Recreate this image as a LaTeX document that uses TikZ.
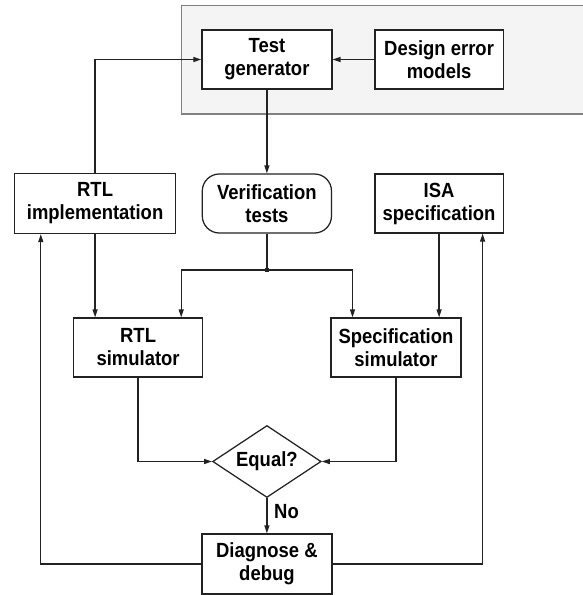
\documentclass[tikz,border=0pt]{standalone}
\usepackage{fontspec}
\setmainfont{Liberation Sans}[FakeStretch=0.9]
\usetikzlibrary{arrows.meta,shapes.geometric}
\definecolor{panelfill}{HTML}{F4F4F4}
\definecolor{paneldraw}{HTML}{808080}
\definecolor{ink}{HTML}{222222}
\tikzset{
  box/.style={draw=ink, line width=1.25pt, fill=white, minimum width=130pt, minimum height=59pt,
    inner sep=0pt, align=center, font=\fontsize{20.5}{23}\selectfont\bfseries},
  pill/.style={box, rounded corners=17pt},
  dec/.style={draw=ink, line width=1.25pt, fill=white, diamond, aspect=1.5, inner sep=0pt,
    minimum width=108.5pt, minimum height=72pt, font=\fontsize{20.5}{23}\selectfont\bfseries},
  conn/.style={draw=ink, line width=1.25pt},
  arr/.style={conn, -{Triangle[length=8pt,width=5pt]}},
  lbl/.style={font=\fontsize{20.5}{23}\selectfont\bfseries, inner sep=0pt}
}
\begin{document}
\begin{tikzpicture}[x=1pt,y=-1pt]
\useasboundingbox (0,0) rectangle (583,595);
\draw[fill=panelfill, draw=paneldraw, line width=1.25pt] (181.2,5.5) rectangle (590,114);
\node[box] (tg) at (266.9,59.5) {Test\\generator};
\node[box, minimum width=128.3pt] (dem) at (439.1,59.5) {Design error\\models};
\node[box, minimum width=161.5pt, minimum height=60pt] (rtl) at (95.1,203.5) {RTL\\implementation};
\node[pill, minimum width=129.2pt] (vt) at (266.9,203.5) {Verification\\tests};
\node[box, minimum width=128.3pt] (isa) at (439.1,203.5) {ISA\\specification};
\node[box, minimum width=129.2pt] (rtlsim) at (138.1,347.5) {RTL\\simulator};
\node[box] (specsim) at (396,347.5) {Specification\\simulator};
\node[dec] (eq) at (266.9,461.5) {Equal?};
\node[box, minimum height=60pt] (diag) at (266.9,564) {Diagnose \&\\debug};
\node[lbl] (no) at (286.5,512) {No};
\node[fill=ink, minimum size=4pt, inner sep=0pt] (j) at (266.9,270) {};
\coordinate (jl) at (181.2,270);
\coordinate (jr) at (352.5,270);
\coordinate (fl) at (40.8,564);
\coordinate (fr) at (482.6,564);
% connectors
\draw[arr] (dem.west) -- (tg.west -| tg.east);
\draw[arr] (rtl.north) |- (tg.west);
\draw[arr] (tg.south) -- (vt.north);
\draw[conn] (vt.south) -- (j.center);
\draw[arr] (j.center) -- (jl) -- (jl |- rtlsim.north);
\draw[arr] (j.center) -- (jr) -- (jr |- specsim.north);
\draw[arr] (rtl.south) -- (rtl.south |- rtlsim.north);
\draw[arr] (isa.south) -- (isa.south |- specsim.north);
\draw[arr] (rtlsim.south) |- (eq.west);
\draw[arr] (specsim.south) |- (eq.east);
\draw[arr] (eq.south) -- (diag.north);
\draw[arr] (diag.west) -- (fl) -- (fl |- rtl.south);
\draw[arr] (diag.east) -- (fr) -- (fr |- isa.south);
\end{tikzpicture}
\end{document}
